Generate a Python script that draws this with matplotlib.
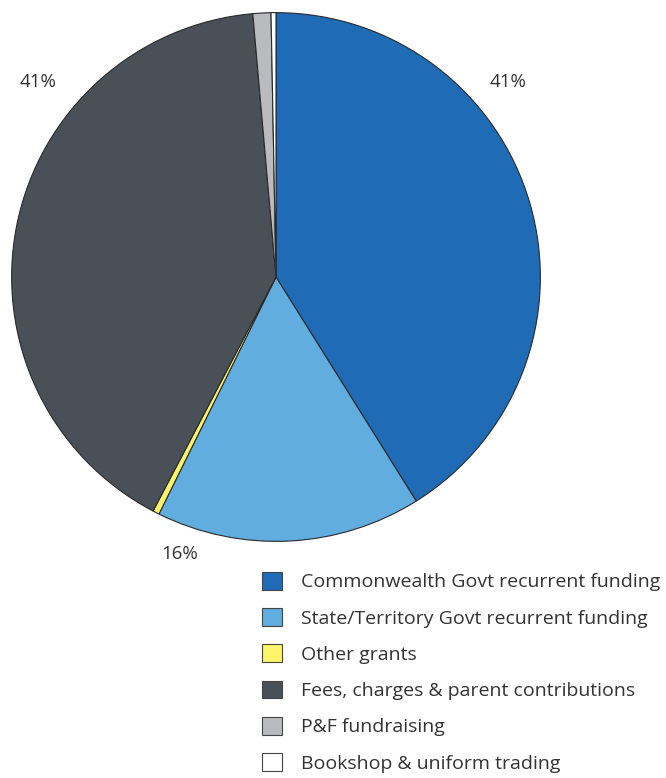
import matplotlib.pyplot as plt

categories = ['Commonwealth Govt recurrent funding',
              'State/Territory Govt recurrent funding',
              'Other grants',
              'Fees, charges & parent contributions',
              'P&F fundraising',
              'Bookshop & uniform trading']
shares = [41.1, 16.2, 0.4, 40.9, 1.1, 0.3]
colors = ['#1f6bb5', '#62ade0', '#fff46a', '#495057', '#b9bbbe', '#ffffff']
pct_labels = ['41%', '16%', '41%']

plt.rcParams['font.family'] = ['Open Sans', 'DejaVu Sans']

fig = plt.figure(figsize=(6.66, 7.78), dpi=100)
W, H = 666, 778
cx, cy, r = 276, 277, 267
ax = fig.add_axes([(cx - r) / W, (H - cy - r) / H, 2 * r / W, 2 * r / H])

wedges, _ = ax.pie(shares, colors=colors, startangle=90, counterclock=False,
                   radius=1, wedgeprops=dict(edgecolor='#2a2a2a', linewidth=0.8))
ax.set_xlim(-1.01, 1.01)
ax.set_ylim(-1.01, 1.01)
ax.set_aspect('equal')
ax.axis('off')

# percentage labels
txt = dict(fontsize=13.5, color='#333333', ha='center', va='center')
fig.text(508 / W, 1 - 82 / H, pct_labels[0], **txt)
fig.text(180 / W, 1 - 554 / H, pct_labels[1], **txt)
fig.text(38 / W, 1 - 82 / H, pct_labels[2], **txt)

leg = fig.legend(wedges, categories, loc='upper left',
                 bbox_to_anchor=(254 / W, 1 - 564 / H), frameon=False,
                 fontsize=14, handlelength=1.03, handleheight=1.03,
                 handletextpad=1.0, labelspacing=0.86, borderaxespad=0)
for t in leg.get_texts():
    t.set_color('#333333')
for h in leg.legend_handles:
    h.set_edgecolor('#444444')
    h.set_linewidth(0.8)

fig.savefig('out.png', dpi=100)
